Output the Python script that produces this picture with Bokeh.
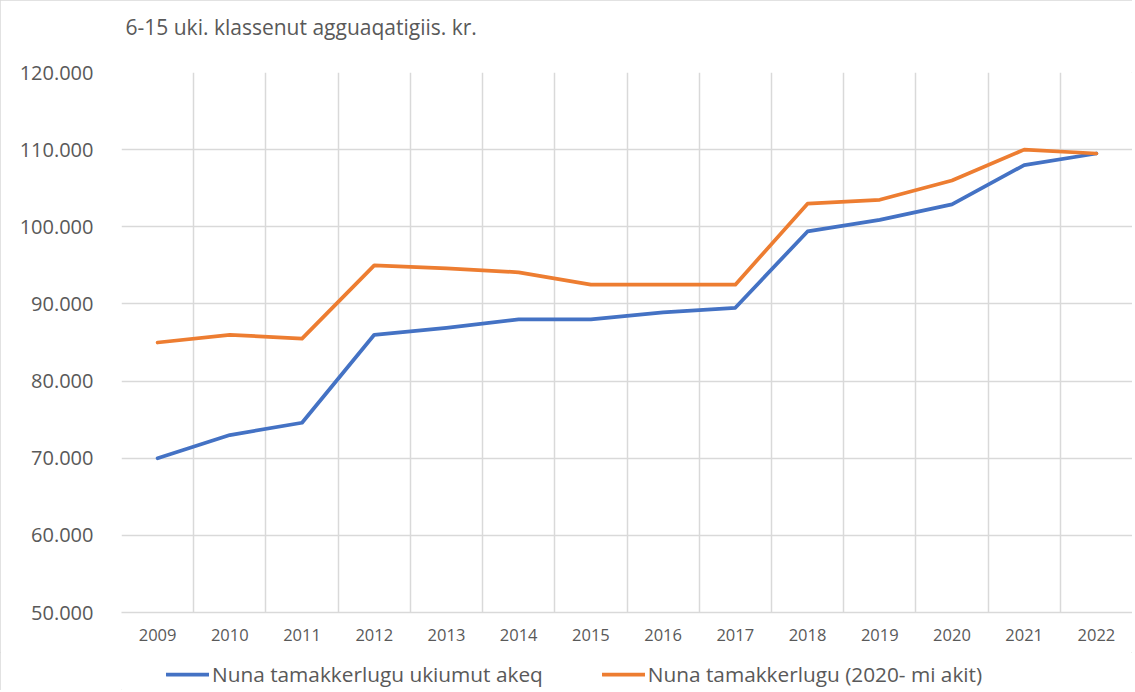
from bokeh.plotting import figure
from bokeh.models import FixedTicker, Legend, LegendItem, Range1d
from bokeh.layouts import column
from bokeh.embed import file_html
from bokeh.resources import INLINE

# ---- data ----
years = [2009, 2010, 2011, 2012, 2013, 2014, 2015, 2016, 2017, 2018, 2019, 2020, 2021, 2022]
nuna_ukiumut_akeq = [70000, 73000, 74600, 86000, 86900, 88000, 88000, 88900, 89500, 99400, 100900, 102900, 108000, 109500]
nuna_2020_mi_akit = [85000, 86000, 85500, 95000, 94600, 94100, 92500, 92500, 92500, 103000, 103500, 106000, 110000, 109500]
series_names = ["Nuna tamakkerlugu ukiumut akeq", "Nuna tamakkerlugu (2020- mi akit)"]
series_colors = ["#4472C4", "#ED7D31"]
y_ticks = [50000, 60000, 70000, 80000, 90000, 100000, 110000, 120000]
y_tick_labels = ["50.000", "60.000", "70.000", "80.000", "90.000", "100.000", "110.000", "120.000"]
title_text = "6-15 uki. klassenut agguaqatigiis. kr."

FONT = "Open Sans"
TXT = "#595959"
GRID = "#d9d9d9"
LW = 3.75
series_values = [nuna_ukiumut_akeq, nuna_2020_mi_akit]

p = figure(
    frame_width=1011, frame_height=540,
    x_range=Range1d(years[0] - 0.5, years[-1] + 0.5),
    y_range=Range1d(y_ticks[0], y_ticks[-1]),
    output_backend="svg", toolbar_location=None,
    min_border_left=121, min_border_top=72, min_border_right=0, min_border_bottom=40,
    title=title_text + "\n ",
)
p.outline_line_color = None
p.background_fill_color = "white"
p.border_fill_color = "white"

# title
p.title.text_font = FONT
p.title.text_font_size = "21px"
p.title.text_font_style = "normal"
p.title.text_color = TXT
p.title.align = "left"
p.title.offset = 4
p.title.vertical_align = "bottom"
if "standoff" in p.title.properties():
    p.title.standoff = 8

# grids
p.xgrid.ticker = FixedTicker(ticks=[y - 0.5 for y in years] + [years[-1] + 0.5])
p.ygrid.ticker = FixedTicker(ticks=y_ticks)
for g in (p.xgrid, p.ygrid):
    g.grid_line_color = GRID
    g.grid_line_width = 1.5

# x axis
xa = p.xaxis[0]
xa.ticker = FixedTicker(ticks=years)
xa.major_label_overrides = {y: str(y) for y in years}
xa.axis_line_color = GRID
xa.axis_line_width = 1.5
xa.major_tick_line_color = None
xa.minor_tick_line_color = None
xa.major_tick_out = 0
xa.major_label_standoff = 16
xa.major_label_text_font = FONT
xa.major_label_text_font_size = "16.5px"
xa.major_label_text_color = TXT

# y axis
ya = p.yaxis[0]
ya.ticker = FixedTicker(ticks=y_ticks)
ya.major_label_overrides = dict(zip(y_ticks, y_tick_labels))
ya.axis_line_color = None
ya.major_tick_line_color = None
ya.minor_tick_line_color = None
ya.major_tick_out = 0
ya.major_label_standoff = 28
ya.major_label_text_font = FONT
ya.major_label_text_font_size = "20px"
ya.major_label_text_color = TXT

for vals, col in zip(series_values, series_colors):
    p.line(years, vals, line_color=col, line_width=LW, line_join="round", line_cap="round")

# ---- legend strip below the chart ----
leg = figure(
    width=1132, height=38, x_range=Range1d(0, 1), y_range=Range1d(0, 1),
    x_axis_type=None, y_axis_type=None, output_backend="svg", toolbar_location=None,
    min_border_left=121, min_border_right=0, min_border_top=0, min_border_bottom=0,
)
leg.outline_line_color = None
leg.xgrid.visible = False
leg.ygrid.visible = False
leg.background_fill_color = "white"
leg.border_fill_color = "white"

# legend sample renderers (their single data point lies outside this strip's ranges)
leg_renderers = [
    leg.line(x=years[:1], y=vals[:1], line_color=c, line_width=LW, line_cap="round")
    for vals, c in zip(series_values, series_colors)
]
legend = Legend(
    items=[LegendItem(label=n, renderers=[r]) for n, r in zip(series_names, leg_renderers)],
    orientation="horizontal", location=(45, 2),
    padding=0, margin=0, spacing=59,
    glyph_width=43, glyph_height=20, label_height=20, label_standoff=3,
    label_text_font=FONT, label_text_font_size="20.8px", label_text_color=TXT,
    border_line_color=None, background_fill_alpha=0,
)
leg.add_layout(legend, "center")

layout = column(p, leg, spacing=0)
layout.styles = {"outline": "1px solid #d9d9d9", "outline-offset": "-1px"}

open("out.html", "w").write(file_html(layout, INLINE))
